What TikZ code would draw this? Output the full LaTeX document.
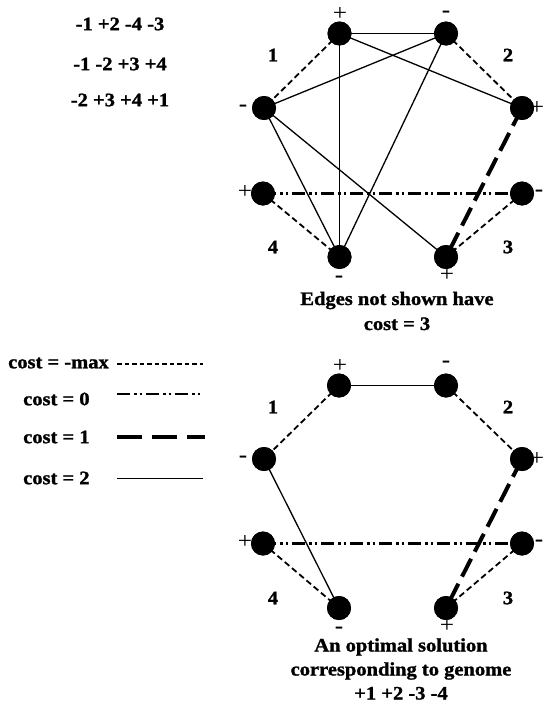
\documentclass[tikz,border=0pt]{standalone}
\usepackage{fontspec}
\setmainfont[FakeStretch=1.1]{Liberation Serif}
\newfontfamily\heavyserif[FakeStretch=1.08,FakeBold=1.3]{Liberation Serif}
\tikzset{
  vtx/.style={circle, fill=black, inner sep=0pt, minimum size=24pt},
  lbl/.style={font=\fontsize{19}{21}\heavyserif\bfseries, inner sep=0pt},
  sgn/.style={font=\fontsize{23}{24}\selectfont, inner sep=0pt},
  msgn/.style={font=\fontsize{23}{24}\selectfont\bfseries, inner sep=0pt},
  negmax/.style={line width=1.8pt, dash pattern=on 6pt off 3.5pt},
  czero/.style={line width=2.4pt, dash pattern=on 13pt off 4pt on 2.5pt off 3pt on 2.5pt off 4pt},
  cone/.style={line width=4pt, dash pattern=on 20pt off 8pt},
  ctwo/.style={line width=1.3pt}
}
\begin{document}
\begin{tikzpicture}[x=1pt,y=-1pt]
\useasboundingbox (0,0) rectangle (545,707);
% genome lines
\node[lbl] (g1) at (120,24) {-1 +2 -4 -3};
\node[lbl] (g2) at (120,64) {-1 -2 +3 +4};
\node[lbl] (g3) at (120,100) {-2 +3 +4 +1};
% ---------- top graph ----------
\node[vtx] (a1) at (339.5,33.5) {};
\node[vtx] (a2) at (446,33.5) {};
\node[vtx] (a3) at (264,108) {};
\node[vtx] (a4) at (522,108) {};
\node[vtx] (a5) at (263,193.5) {};
\node[vtx] (a6) at (522,193.5) {};
\node[vtx] (a7) at (339.5,257) {};
\node[vtx] (a8) at (446,257) {};
\draw[negmax] (a1.center) -- (a3.center);
\draw[negmax] (a2.center) -- (a4.center);
\draw[negmax] (a6.center) -- (a8.center);
\draw[negmax] (a5.center) -- (a7.center);
\draw[ctwo] (a1.center) -- (a2.center);
\draw[ctwo] (a1.center) -- (a4.center);
\draw[ctwo] (a1.center) -- (a7.center);
\draw[ctwo] (a2.center) -- (a3.center);
\draw[ctwo] (a2.center) -- (a7.center);
\draw[ctwo] (a3.center) -- (a7.center);
\draw[ctwo] (a3.center) -- (a8.center);
\draw[czero] (a5.center) -- (a6.center);
\draw[cone] (a4.center) -- (a8.center);
\foreach \n in {a1,a2,a3,a4,a5,a6,a7,a8} \fill (\n) circle (12pt);
\node[sgn] (sa1) at (340,14) {+};
\node[msgn] (sa2) at (446,14) {-};
\node[msgn] (sa3) at (243,108) {-};
\node[sgn] (sa4) at (537,108) {+};
\node[sgn] (sa5) at (245,192) {+};
\node[msgn] (sa6) at (539,193) {-};
\node[msgn] (sa7) at (339,279) {-};
\node[sgn] (sa8) at (447,275) {+};
\node[lbl] (na1) at (273,55) {1};
\node[lbl] (na2) at (508,55) {2};
\node[lbl] (na3) at (508,247) {3};
\node[lbl] (na4) at (273,247) {4};
\node[lbl, align=center] (cap1) at (397,311) {Edges not shown have\\[4pt]cost = 3};
% ---------- legend ----------
\node[lbl, anchor=west] (l0) at (8,363) {cost = -max};
\node[lbl, anchor=west] (l1) at (23,399) {cost = 0};
\node[lbl, anchor=west] (l2) at (23,437) {cost = 1};
\node[lbl, anchor=west] (l3) at (23,478) {cost = 2};
\coordinate (e0a) at (117,364); \coordinate (e0b) at (203,364);
\coordinate (e1a) at (117,394); \coordinate (e1b) at (203,394);
\coordinate (e2a) at (117,437); \coordinate (e2b) at (205,437);
\coordinate (e3a) at (117,478.5); \coordinate (e3b) at (203,478.5);
\draw[line width=1.5pt, dash pattern=on 4.5pt off 3pt] (e0a) -- (e0b);
\draw[czero] (e1a) -- (e1b);
\draw[line width=4pt, dash pattern=on 25pt off 10pt] (e2a) -- (e2b);
\draw[ctwo] (e3a) -- (e3b);
% ---------- bottom graph ----------
\node[vtx] (b1) at (339,385.5) {};
\node[vtx] (b2) at (446,385.5) {};
\node[vtx] (b3) at (264,459) {};
\node[vtx] (b4) at (522,459) {};
\node[vtx] (b5) at (263,543.5) {};
\node[vtx] (b6) at (522,543.5) {};
\node[vtx] (b7) at (339,608) {};
\node[vtx] (b8) at (446,608) {};
\draw[negmax] (b1.center) -- (b3.center);
\draw[negmax] (b2.center) -- (b4.center);
\draw[negmax] (b6.center) -- (b8.center);
\draw[negmax] (b5.center) -- (b7.center);
\draw[ctwo] (b1.center) -- (b2.center);
\draw[ctwo] (b3.center) -- (b7.center);
\draw[czero] (b5.center) -- (b6.center);
\draw[cone] (b4.center) -- (b8.center);
\foreach \n in {b1,b2,b3,b4,b5,b6,b7,b8} \fill (\n) circle (12pt);
\node[sgn] (sb1) at (340,366) {+};
\node[msgn] (sb2) at (446,364) {-};
\node[msgn] (sb3) at (243,459) {-};
\node[sgn] (sb4) at (537,459) {+};
\node[sgn] (sb5) at (245,542) {+};
\node[msgn] (sb6) at (539,543) {-};
\node[msgn] (sb7) at (339,630) {-};
\node[sgn] (sb8) at (447,626) {+};
\node[lbl] (nb1) at (273,407) {1};
\node[lbl] (nb2) at (508,407) {2};
\node[lbl] (nb3) at (508,598) {3};
\node[lbl] (nb4) at (273,598) {4};
\node[lbl, align=center] (cap2) at (401,669) {An optimal solution\\[3pt]corresponding to genome\\[3pt]+1 +2 -3 -4};
\end{tikzpicture}
\end{document}
